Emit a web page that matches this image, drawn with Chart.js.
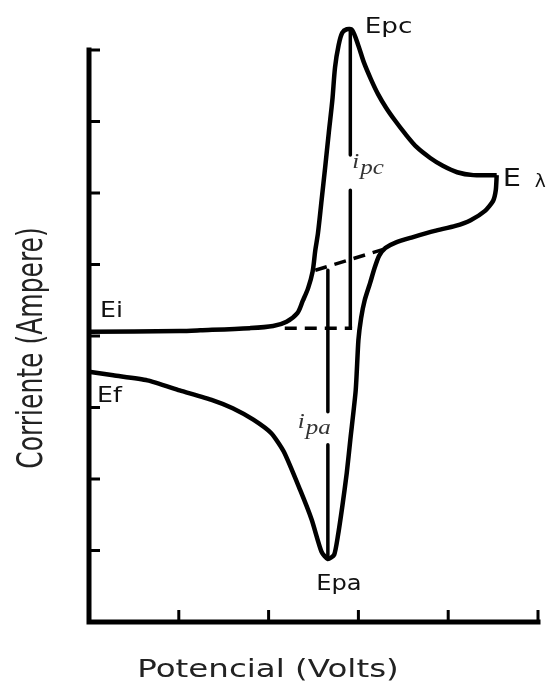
<!DOCTYPE html>
<html>
<head>
<meta charset="utf-8">
<script src="https://cdn.jsdelivr.net/npm/chart.js@4/dist/chart.umd.min.js"></script>
<style>
  body { margin: 0; background: #fff; }
  canvas { display: block; }
</style>
</head>
<body>
<canvas id="cv" width="559" height="686"></canvas>
<script>
// voltammogram, forward sweep (Ei -> E lambda)
var potForward = [0, 1.01, 1.24, 1.79, 2.05, 2.20, 2.32, 2.38, 2.44, 2.49, 2.52, 2.55, 2.59, 2.63, 2.67, 2.71, 2.74, 2.78, 2.82, 2.87, 2.93, 3.00, 3.06, 3.14, 3.22, 3.31, 3.41, 3.52, 3.65, 3.80, 3.94, 4.10, 4.28, 4.54];
var curForward = [0.06, 0.07, 0.08, 0.11, 0.14, 0.20, 0.32, 0.49, 0.67, 0.90, 1.20, 1.44, 1.90, 2.36, 2.84, 3.30, 3.76, 4.07, 4.24, 4.29, 4.28, 4.06, 3.83, 3.59, 3.38, 3.19, 3.01, 2.83, 2.64, 2.49, 2.38, 2.29, 2.25, 2.25];

// reverse sweep (E lambda -> Ef)
var potReverse = [4.54, 4.53, 4.50, 4.41, 4.25, 4.08, 3.85, 3.60, 3.42, 3.30, 3.23, 3.18, 3.13, 3.07, 3.03, 3.00, 2.97, 2.91, 2.87, 2.82, 2.77, 2.73, 2.66, 2.59, 2.48, 2.35, 2.17, 2.03, 1.83, 1.60, 1.38, 1.01, 0.65, 0.27, 0];
var curReverse = [2.25, 2.04, 1.89, 1.75, 1.62, 1.54, 1.47, 1.38, 1.31, 1.23, 1.12, 0.95, 0.74, 0.50, 0.25, -0.06, -0.76, -1.45, -1.92, -2.39, -2.81, -3.06, -3.12, -3.02, -2.57, -2.15, -1.62, -1.36, -1.17, -1.01, -0.90, -0.76, -0.62, -0.55, -0.50];

// extrapolated baselines (dashed)
var baseCathPot = [2.18, 2.93];
var baseCathCur = [0.11, 0.11];
var baseAnodPot = [2.52, 3.30];
var baseAnodCur = [0.92, 1.22];

// peak current markers, null = gap for the label
var ipcPot = [2.91, 2.91, 2.91, 2.91, 2.91];
var ipcCur = [4.29, 2.53, null, 2.04, 0.11];
var ipaPot = [2.66, 2.66, 2.66, 2.66, 2.66];
var ipaCur = [0.92, -1.06, null, -1.52, -3.12];

var xTicks = [0, 1, 2, 3, 4, 5];
var yTicks = [-4, -3, -2, -1, 0, 1, 2, 3, 4];

var xTitle = 'Potencial (Volts)';
var yTitle = 'Corriente (Ampere)';

function pts(xs, ys) {
	return xs.map(function(x, i) { return { x: x, y: ys[i] }; });
}

function line(data, width, dash, tension) {
	return {
		data: data,
		showLine: true,
		borderColor: '#000',
		borderWidth: width,
		borderDash: dash || [],
		borderJoinStyle: 'round',
		pointRadius: 0,
		fill: false,
		tension: tension || 0,
		spanGaps: false,
		clip: false
	};
}

// draws text stretched horizontally like the old bitmap fonts
function txt(ctx, s, x, y, font, align, sx) {
	ctx.save();
	ctx.translate(x, y);
	ctx.scale(sx, 1);
	ctx.font = font;
	ctx.textAlign = align || 'left';
	ctx.textBaseline = 'alphabetic';
	ctx.fillText(s, 0, 0);
	ctx.restore();
}

function mathLabel(ctx, main, sub, x, y) {
	var f = 'italic 20px "Liberation Serif", serif';
	ctx.save();
	ctx.fillStyle = '#333';
	ctx.font = f;
	var w = ctx.measureText(main).width * 1.25;
	txt(ctx, main, x, y, f, 'left', 1.25);
	txt(ctx, sub, x + w + 1, y + 6, f, 'left', 1.25);
	ctx.restore();
}

var axesPlugin = {
	id: 'axesPlugin',
	beforeDatasetsDraw: function(chart) {
		var ctx = chart.ctx, xs = chart.scales.x, ys = chart.scales.y;
		var x0 = xs.getPixelForValue(xTicks[0]);
		var x1 = xs.getPixelForValue(xTicks[xTicks.length - 1]);
		var y0 = ys.getPixelForValue(yTicks[0]);
		var y1 = ys.getPixelForValue(yTicks[yTicks.length - 1]);
		ctx.save();
		ctx.strokeStyle = '#000';
		ctx.lineCap = 'square';
		ctx.lineWidth = 5;
		ctx.beginPath();
		ctx.moveTo(x0, y1);
		ctx.lineTo(x0, y0);
		ctx.lineTo(x1, y0);
		ctx.stroke();
		ctx.lineWidth = 3;
		ctx.lineCap = 'butt';
		ctx.beginPath();
		yTicks.forEach(function(v) {
			var py = ys.getPixelForValue(v);
			ctx.moveTo(x0, py);
			ctx.lineTo(x0 + 11, py);
		});
		xTicks.forEach(function(v) {
			var px = xs.getPixelForValue(v);
			ctx.moveTo(px, y0);
			ctx.lineTo(px, y0 - 12);
		});
		ctx.stroke();
		ctx.restore();
	},
	afterDraw: function(chart) {
		var ctx = chart.ctx, xs = chart.scales.x, ys = chart.scales.y;
		var P = function(x, y) { return [xs.getPixelForValue(x), ys.getPixelForValue(y)]; };
		var lbl = '21px "DejaVu Sans", sans-serif';
		ctx.save();
		ctx.fillStyle = '#111';

		// peak / switching labels
		var iPeak = curForward.indexOf(Math.max.apply(null, curForward));
		var p = P(potForward[iPeak], curForward[iPeak]);
		txt(ctx, 'Epc', p[0] + 18, p[1] + 4, lbl, 'left', 1.25);

		var last = potForward.length - 1;
		p = P(potForward[last], curForward[last]);
		txt(ctx, 'E', p[0] + 6, p[1] + 11, '24px "DejaVu Sans", sans-serif', 'left', 1.2);
		txt(ctx, 'λ', p[0] + 38, p[1] + 12, '17px "DejaVu Sans", sans-serif', 'left', 1.1);

		p = P(potForward[0], curForward[0]);
		txt(ctx, 'Ei', p[0] + 11, p[1] - 15, lbl, 'left', 1.2);

		p = P(potReverse[potReverse.length - 1], curReverse[curReverse.length - 1]);
		txt(ctx, 'Ef', p[0] + 8, p[1] + 30, lbl, 'left', 1.2);

		var iMin = curReverse.indexOf(Math.min.apply(null, curReverse));
		p = P(potReverse[iMin], curReverse[iMin]);
		txt(ctx, 'Epa', p[0] + 11, p[1] + 31, lbl, 'center', 1.15);

		// peak current labels sit in the gaps of their markers
		p = P(ipcPot[2], ipcCur[1]);
		mathLabel(ctx, 'i', 'pc', p[0] + 2, p[1] + 13);
		p = P(ipaPot[2], ipaCur[1]);
		mathLabel(ctx, 'i', 'pa', p[0] - 30, p[1] + 16);

		// axis titles
		ctx.fillStyle = '#222';
		var tf = '25px "DejaVu Sans", sans-serif';
		txt(ctx, xTitle, 268, 677, tf, 'center', 1.3);
		ctx.save();
		ctx.translate(42, 348);
		ctx.rotate(-Math.PI / 2);
		ctx.scale(1, 1.4);
		ctx.font = tf;
		ctx.textAlign = 'center';
		ctx.textBaseline = 'alphabetic';
		ctx.fillText(yTitle, 0, 0);
		ctx.restore();
		ctx.restore();
	}
};

new Chart(document.getElementById('cv'), {
	type: 'scatter',
	data: {
		datasets: [
			line(pts(potForward, curForward), 4.5, null, 0.3),
			line(pts(potReverse, curReverse), 4.5, null, 0.2),
			line(pts(baseCathPot, baseCathCur), 3.5, [12, 8]),
			line(pts(baseAnodPot, baseAnodCur), 3.5, [12, 8]),
			line(pts(ipcPot, ipcCur), 3.5),
			line(pts(ipaPot, ipaCur), 3.5)
		]
	},
	options: {
		responsive: false,
		animation: false,
		layout: { padding: { left: 89, right: 21, top: 50, bottom: 64 } },
		plugins: { legend: { display: false }, tooltip: { enabled: false } },
		scales: {
			x: { type: 'linear', min: 0, max: 5, display: false },
			y: { type: 'linear', min: -4, max: 4, display: false }
		}
	},
	plugins: [axesPlugin]
});
</script>
</body>
</html>
